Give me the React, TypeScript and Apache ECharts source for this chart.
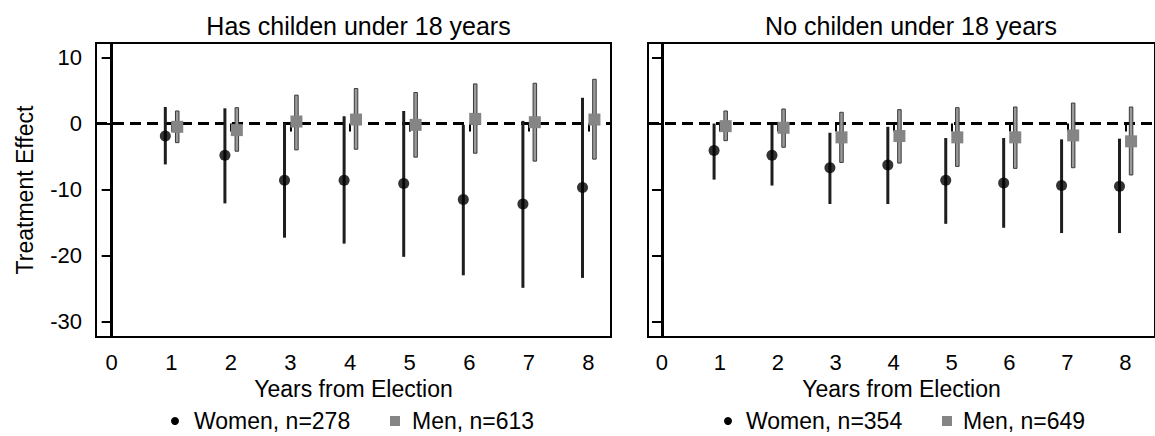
import React, { useEffect, useRef } from "react";
import * as echarts from "echarts";

const years = [1, 2, 3, 4, 5, 6, 7, 8];
const xTicks = [0, 1, 2, 3, 4, 5, 6, 7, 8];
const yTicks = [-30, -20, -10, 0, 10];

const panelTitles = ["Has childen under 18 years", "No childen under 18 years"];
const womenLabels = ["Women, n=278", "Women, n=354"];
const menLabels = ["Men, n=613", "Men, n=649"];

// Panel 1: has children under 18
const womenKidsEst = [-1.9, -4.8, -8.6, -8.6, -9.1, -11.5, -12.2, -9.7];
const womenKidsLo = [-6.2, -12.1, -17.3, -18.2, -20.2, -23.0, -24.9, -23.4];
const womenKidsHi = [2.5, 2.3, 0.0, 1.1, 1.9, -0.2, 0.4, 3.9];
const menKidsEst = [-0.5, -1.0, 0.3, 0.6, -0.2, 0.7, 0.2, 0.6];
const menKidsLo = [-2.9, -4.2, -4.0, -3.9, -5.1, -4.5, -5.7, -5.4];
const menKidsHi = [1.9, 2.4, 4.3, 5.3, 4.7, 6.0, 6.1, 6.7];

// Panel 2: no children under 18
const womenNoKidsEst = [-4.1, -4.8, -6.7, -6.3, -8.6, -9.0, -9.4, -9.5];
const womenNoKidsLo = [-8.5, -9.4, -12.2, -12.2, -15.2, -15.8, -16.6, -16.6];
const womenNoKidsHi = [0.0, -0.2, -1.4, -0.5, -2.2, -2.2, -2.4, -2.3];
const menNoKidsEst = [-0.4, -0.65, -2.1, -1.9, -2.1, -2.1, -1.8, -2.7];
const menNoKidsLo = [-2.6, -3.6, -5.9, -6.0, -6.5, -6.8, -6.7, -7.8];
const menNoKidsHi = [1.9, 2.2, 1.7, 2.1, 2.4, 2.5, 3.1, 2.5];

const FONT = "'Liberation Sans', Arial, sans-serif";
const OFFSET = 0.1;

function pts(est: number[], dx: number) {
  return years.map((y, i) => [y + dx, est[i]]);
}
function bars(lo: number[], hi: number[], dx: number) {
  return years.map((y, i) => [y + dx, lo[i], hi[i]]);
}

function womenBarItem(params: any, api: any) {
  const x = api.value(0);
  const p1 = api.coord([x, api.value(2)]);
  const p2 = api.coord([x, api.value(1)]);
  return {
    type: "line",
    shape: { x1: p1[0], y1: p1[1], x2: p2[0], y2: p2[1] },
    style: { stroke: "#1e1e1e", lineWidth: 3 },
  };
}
function menBarItem(params: any, api: any) {
  const x = api.value(0);
  const p1 = api.coord([x, api.value(2)]);
  const p2 = api.coord([x, api.value(1)]);
  const w = 3.5;
  return {
    type: "rect",
    shape: { x: p1[0] - w / 2, y: p1[1], width: w, height: p2[1] - p1[1] },
    style: { fill: "#9a9a9a", stroke: "#3a3a3a", lineWidth: 1 },
  };
}

export default function App() {
  const ref = useRef<HTMLDivElement>(null);
  useEffect(() => {
    document.body.style.margin = "0";
    if (!ref.current) return;
    const chart = echarts.init(ref.current, undefined, { renderer: "svg" });

    const grids = [
      { left: 96, top: 43, width: 515, height: 294 },
      { left: 648, top: 43, width: 520, height: 294 },
    ];
    const xRanges = [
      [-0.263, 8.378],
      [-0.241, 8.513],
    ];

    const panelData = [
      {
        wEst: womenKidsEst, wLo: womenKidsLo, wHi: womenKidsHi,
        mEst: menKidsEst, mLo: menKidsLo, mHi: menKidsHi,
      },
      {
        wEst: womenNoKidsEst, wLo: womenNoKidsLo, wHi: womenNoKidsHi,
        mEst: menNoKidsEst, mLo: menNoKidsLo, mHi: menNoKidsHi,
      },
    ];

    const series: any[] = [];
    panelData.forEach((p, k) => {
      series.push({
        type: "line",
        name: "ref" + k,
        xAxisIndex: k,
        yAxisIndex: k,
        data: [],
        z: 1,
        markLine: {
          silent: true,
          symbol: ["none", "none"],
          label: { show: false },
          z: 1,
          data: [
            { yAxis: 0, lineStyle: { color: "#000", width: 3, type: [11, 6] } },
            { xAxis: 0, lineStyle: { color: "#000", width: 3, type: "solid" } },
          ],
        },
      });
      series.push({
        type: "custom",
        name: "womenCI" + k,
        xAxisIndex: k,
        yAxisIndex: k,
        renderItem: womenBarItem,
        encode: { x: 0, y: [1, 2] },
        data: bars(p.wLo, p.wHi, -OFFSET),
        z: 2,
        silent: true,
      });
      series.push({
        type: "custom",
        name: "menCI" + k,
        xAxisIndex: k,
        yAxisIndex: k,
        renderItem: menBarItem,
        encode: { x: 0, y: [1, 2] },
        data: bars(p.mLo, p.mHi, OFFSET),
        z: 2,
        silent: true,
      });
      series.push({
        type: "scatter",
        name: womenLabels[k],
        xAxisIndex: k,
        yAxisIndex: k,
        symbol: "circle",
        symbolSize: 11,
        itemStyle: { color: "#000" },
        data: pts(p.wEst, -OFFSET),
        z: 10,
      });
      series.push({
        type: "scatter",
        name: menLabels[k],
        xAxisIndex: k,
        yAxisIndex: k,
        symbol: "rect",
        symbolSize: 12,
        itemStyle: { color: "#858585", opacity: 1 },
        data: pts(p.mEst, OFFSET),
        z: 10,
      });
    });

    const graphic: any[] = [];
    const legendPos = [
      { dot: 175, wText: 194, sq: 395, mText: 412 },
      { dot: 728, wText: 746, sq: 947, mText: 963 },
    ];
    legendPos.forEach((lp, k) => {
      graphic.push({
        type: "circle",
        shape: { cx: lp.dot, cy: 421, r: 4 },
        style: { fill: "#000" },
      });
      graphic.push({
        type: "text",
        x: lp.wText,
        y: 421,
        style: {
          text: womenLabels[k],
          font: `23px ${FONT}`,
          fill: "#000",
          verticalAlign: "middle",
          align: "left",
        },
      });
      graphic.push({
        type: "rect",
        shape: { x: lp.sq - 5, y: 416, width: 10, height: 10 },
        style: { fill: "#858585" },
      });
      graphic.push({
        type: "text",
        x: lp.mText,
        y: 421,
        style: {
          text: menLabels[k],
          font: `23px ${FONT}`,
          fill: "#000",
          verticalAlign: "middle",
          align: "left",
        },
      });
    });

    chart.setOption({
      animation: false,
      backgroundColor: "#fff",
      title: panelTitles.map((t, k) => ({
        text: t,
        left: k === 0 ? 353.5 : 906,
        top: 8,
        textAlign: "center",
        textStyle: { fontFamily: FONT, fontSize: 25, fontWeight: "normal", color: "#000" },
      })),
      grid: grids.map((g) => ({
        ...g,
        show: true,
        borderColor: "#000",
        borderWidth: 2,
        backgroundColor: "#fff",
        containLabel: false,
      })),
      xAxis: grids.map((g, k) => ({
        type: "value",
        gridIndex: k,
        min: xRanges[k][0],
        max: xRanges[k][1],
        name: "Years from Election",
        nameLocation: "middle",
        nameGap: 39,
        nameTextStyle: { fontFamily: FONT, fontSize: 23, color: "#000" },
        axisLine: { show: false },
        splitLine: { show: false },
        axisTick: {
          show: true,
          customValues: xTicks,
          length: 8,
          lineStyle: { color: "#000", width: 2 },
        },
        axisLabel: {
          customValues: xTicks,
          margin: 14,
          fontFamily: FONT,
          fontSize: 22,
          color: "#000",
          formatter: (v: number) => String(Math.round(v)),
        },
      })),
      yAxis: grids.map((g, k) => ({
        type: "value",
        gridIndex: k,
        min: -32.35,
        max: 12.2,
        name: k === 0 ? "Treatment Effect" : "",
        nameLocation: "middle",
        nameGap: 60,
        nameTextStyle: { fontFamily: FONT, fontSize: 23, color: "#000" },
        axisLine: { show: false },
        splitLine: { show: false },
        axisTick: {
          show: true,
          customValues: yTicks,
          length: 10,
          lineStyle: { color: "#000", width: 2 },
        },
        axisLabel: {
          show: k === 0,
          customValues: yTicks,
          margin: 14,
          fontFamily: FONT,
          fontSize: 22,
          color: "#000",
        },
      })),
      series,
      graphic,
    });

    return () => chart.dispose();
  }, []);

  return <div ref={ref} style={{ width: 1155, height: 436 }} />;
}
